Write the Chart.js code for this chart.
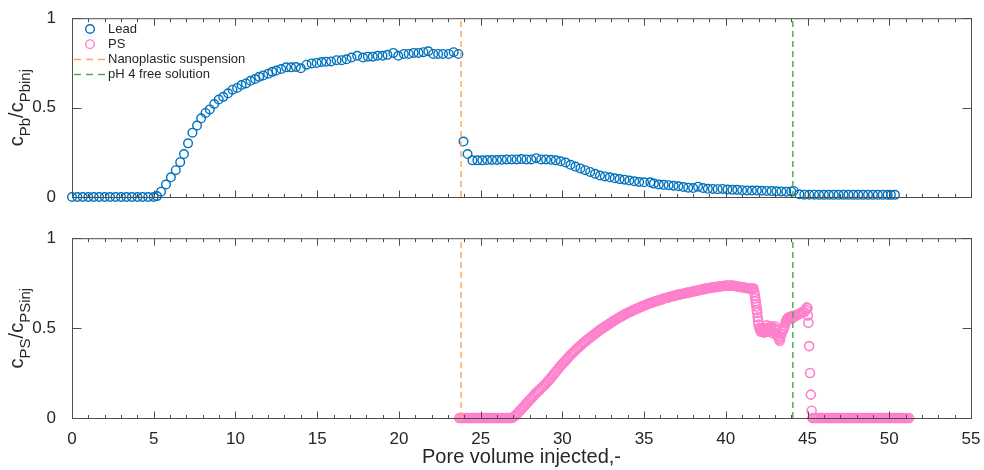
<!DOCTYPE html>
<html>
<head>
<meta charset="utf-8">
<script src="https://cdn.jsdelivr.net/npm/chart.js@4.4.1/dist/chart.umd.min.js"></script>
<style>
  body { margin: 0; background: #fff; }
  canvas { position: absolute; left: 0; }
  #topChart { top: 0; }
  #bottomChart { top: 220px; }
</style>
</head>
<body>
<canvas id="topChart" width="984" height="220"></canvas>
<canvas id="bottomChart" width="984" height="250"></canvas>
<script>
// pore volumes where the injected solution changes
const nanoPV = 23.8;
const freePV = 44.1;
const xTickValues = [0, 5, 10, 15, 20, 25, 30, 35, 40, 45, 50, 55];
const yTickValues = [0, 0.5, 1];

// lead breakthrough (top panel)
const leadX = [0, 0.33, 0.66, 1.0, 1.33, 1.66, 2.0, 2.33, 2.66, 3.0, 3.33, 3.66, 4.0, 4.33, 4.66, 5.0,
  5.2, 5.45, 5.75, 6.05, 6.35, 6.62, 6.85, 7.1, 7.37, 7.65, 7.9, 8.17, 8.43, 8.7, 8.98, 9.25, 9.55, 9.82,
  10.1, 10.37, 10.64, 10.92, 11.2, 11.45, 11.7, 12.0, 12.25, 12.5, 12.8, 13.1, 13.4, 13.7, 14.0, 14.35,
  14.66, 14.97, 15.27, 15.55, 15.85, 16.19, 16.5, 16.8, 17.1, 17.45, 17.8, 18.1, 18.4, 18.7, 19.0, 19.3,
  19.66, 19.96, 20.3, 20.6, 20.9, 21.2, 21.5, 21.8, 22.1, 22.4, 22.7, 23.05, 23.35, 23.64,
  23.95, 24.2, 24.5, 24.8, 25.1, 25.4, 25.7, 26.0, 26.3, 26.6, 26.9, 27.2, 27.5, 27.8, 28.1, 28.4, 28.7,
  29.0, 29.3, 29.6, 29.9, 30.2, 30.5, 30.8, 31.1, 31.4, 31.7, 32.0, 32.3, 32.6, 32.9, 33.2, 33.5, 33.8,
  34.1, 34.4, 34.7, 35.0, 35.38, 35.6, 35.9, 36.2, 36.5, 36.8, 37.1, 37.4, 37.7, 38.0, 38.3, 38.6, 38.9,
  39.2, 39.5, 39.8, 40.1, 40.4, 40.7, 41.0, 41.3, 41.6, 41.9, 42.2, 42.5, 42.8, 43.1, 43.4, 43.7, 44.0,
  44.15, 44.5, 44.8, 45.1, 45.4, 45.7, 46.0, 46.3, 46.6, 46.9, 47.2, 47.5, 47.8, 48.1, 48.4, 48.7, 49.0,
  49.3, 49.6, 49.9, 50.1, 50.35];
const leadY = [0, 0, 0, 0, 0, 0, 0, 0, 0, 0, 0, 0, 0, 0, 0, 0,
  0.005, 0.03, 0.07, 0.11, 0.15, 0.195, 0.24, 0.30, 0.36, 0.40, 0.44, 0.47, 0.49, 0.52, 0.545, 0.56, 0.58, 0.60,
  0.61, 0.626, 0.635, 0.65, 0.66, 0.672, 0.68, 0.69, 0.70, 0.707, 0.716, 0.725, 0.725, 0.727, 0.72, 0.74,
  0.747, 0.75, 0.755, 0.757, 0.758, 0.765, 0.765, 0.77, 0.78, 0.79, 0.78, 0.785, 0.785, 0.79, 0.79, 0.795,
  0.806, 0.79, 0.80, 0.80, 0.806, 0.806, 0.81, 0.815, 0.80, 0.80, 0.80, 0.80, 0.81, 0.80,
  0.31, 0.24, 0.205, 0.205, 0.205, 0.207, 0.207, 0.207, 0.208, 0.21, 0.21, 0.21, 0.212, 0.21, 0.21, 0.217, 0.21,
  0.21, 0.208, 0.205, 0.20, 0.193, 0.18, 0.17, 0.16, 0.15, 0.14, 0.13, 0.12, 0.115, 0.11, 0.105, 0.10, 0.097,
  0.092, 0.088, 0.084, 0.082, 0.082, 0.075, 0.07, 0.068, 0.066, 0.063, 0.06, 0.056, 0.052, 0.05, 0.058, 0.05, 0.046,
  0.045, 0.044, 0.045, 0.042, 0.04, 0.04, 0.038, 0.037, 0.036, 0.036, 0.035, 0.034, 0.033, 0.032, 0.031, 0.03, 0.031,
  0.034, 0.015, 0.013, 0.013, 0.013, 0.012, 0.012, 0.012, 0.012, 0.012, 0.012, 0.012, 0.012, 0.012, 0.012, 0.012, 0.012,
  0.012, 0.012, 0.012, 0.012, 0.012];

// polystyrene nanoplastics (bottom panel)
const psX = [23.7, 23.8, 23.9, 24.0, 24.1, 24.2, 24.3, 24.4, 24.5, 24.6, 24.7, 24.8, 24.9, 25.0, 25.1, 25.2,
  25.3, 25.4, 25.5, 25.6, 25.7, 25.8, 25.9, 26.0, 26.1, 26.2, 26.3, 26.4, 26.5, 26.6, 26.7, 26.8, 26.9,
  27.0, 27.1, 27.2, 27.3, 27.4, 27.5, 27.6, 27.7, 27.8, 27.9, 28.0, 28.1, 28.2, 28.3, 28.4, 28.5, 28.6, 28.7,
  28.8, 28.9, 29.0, 29.1, 29.2, 29.3, 29.4, 29.5, 29.6, 29.7, 29.8, 29.9, 30.0, 30.1, 30.2, 30.3, 30.4, 30.5,
  30.6, 30.7, 30.8, 30.9, 31.0, 31.1, 31.2, 31.3, 31.4, 31.5, 31.6, 31.7, 31.8, 31.9, 32.0, 32.1, 32.2, 32.3,
  32.4, 32.5, 32.6, 32.7, 32.8, 32.9, 33.0, 33.1, 33.2, 33.3, 33.4, 33.5, 33.6, 33.7, 33.8, 33.9, 34.0, 34.1,
  34.2, 34.3, 34.4, 34.5, 34.6, 34.7, 34.8, 34.9, 35.0, 35.1, 35.2, 35.3, 35.4, 35.5, 35.6, 35.7, 35.8, 35.9,
  36.0, 36.1, 36.2, 36.3, 36.4, 36.5, 36.6, 36.7, 36.8, 36.9, 37.0, 37.1, 37.2, 37.3, 37.4, 37.5, 37.6, 37.7,
  37.8, 37.9, 38.0, 38.1, 38.2, 38.3, 38.4, 38.5, 38.6, 38.7, 38.8, 38.9, 39.0, 39.1, 39.2, 39.3, 39.4, 39.5,
  39.6, 39.7, 39.8, 39.9, 40.0, 40.1, 40.2, 40.3, 40.4, 40.5, 40.6, 40.7, 40.8, 40.9, 41.0, 41.1, 41.2, 41.3,
  41.4, 41.5, 41.6, 41.7,
  41.75, 41.78, 41.8, 41.83, 41.85, 41.87, 41.9, 41.92, 41.95, 41.98, 42.0, 42.05, 42.1, 42.15, 42.2, 42.25,
  42.3, 42.35, 42.4, 42.45, 42.5, 42.55, 42.6, 42.65, 42.7, 42.75, 42.8, 42.85, 42.9, 42.95, 43.0, 43.05,
  43.1, 43.15, 43.2, 43.25, 43.3, 43.35, 43.4, 43.45, 43.5, 43.55, 43.6, 43.65, 43.7, 43.75, 43.8, 43.85,
  43.9, 43.95, 44.0, 44.05, 44.1, 44.15, 44.2, 44.3, 44.4, 44.5, 44.6, 44.7, 44.8, 44.9, 44.95, 45.0,
  45.02, 45.05, 45.1, 45.15, 45.2, 45.25, 45.3,
  45.4, 45.5, 45.6, 45.7, 45.8, 45.9, 46.0, 46.1, 46.2, 46.3, 46.4, 46.5, 46.6, 46.7, 46.8, 46.9, 47.0, 47.1,
  47.2, 47.3, 47.4, 47.5, 47.6, 47.7, 47.8, 47.9, 48.0, 48.1, 48.2, 48.3, 48.4, 48.5, 48.6, 48.7, 48.8, 48.9,
  49.0, 49.1, 49.2, 49.3, 49.4, 49.5, 49.6, 49.7, 49.8, 49.9, 50.0, 50.1, 50.2, 50.3, 50.4, 50.5, 50.6, 50.7,
  50.8, 50.9, 51.0, 51.1, 51.2];
const psY = [0, 0, 0, 0, 0, 0, 0, 0, 0, 0, 0, 0, 0, 0, 0, 0,
  0, 0, 0, 0, 0, 0, 0, 0, 0, 0, 0, 0, 0, 0, 0, 0, 0,
  0.005, 0.012, 0.02, 0.03, 0.04, 0.05, 0.06, 0.07, 0.08, 0.09, 0.10, 0.11, 0.12, 0.13, 0.14, 0.148, 0.156, 0.165,
  0.174, 0.183, 0.192, 0.203, 0.213, 0.224, 0.235, 0.246, 0.257, 0.268, 0.279, 0.29, 0.30, 0.31, 0.32, 0.33, 0.34, 0.35,
  0.359, 0.368, 0.377, 0.386, 0.394, 0.402, 0.41, 0.418, 0.426, 0.434, 0.441, 0.448, 0.455, 0.462, 0.469, 0.476, 0.483, 0.49,
  0.496, 0.502, 0.508, 0.514, 0.52, 0.526, 0.532, 0.538, 0.544, 0.549, 0.555, 0.56, 0.565, 0.57, 0.575, 0.58, 0.585, 0.589,
  0.594, 0.598, 0.602, 0.606, 0.61, 0.614, 0.618, 0.622, 0.626, 0.63, 0.634, 0.637, 0.64, 0.643, 0.646, 0.649, 0.652, 0.655,
  0.658, 0.661, 0.664, 0.667, 0.669, 0.672, 0.674, 0.677, 0.679, 0.681, 0.684, 0.686, 0.688, 0.69, 0.692, 0.694, 0.696, 0.698,
  0.70, 0.702, 0.704, 0.706, 0.708, 0.71, 0.712, 0.714, 0.716, 0.718, 0.72, 0.722, 0.723, 0.725, 0.726, 0.728, 0.729, 0.73,
  0.732, 0.733, 0.734, 0.735, 0.736, 0.737, 0.737, 0.737, 0.736, 0.735, 0.734, 0.732, 0.73, 0.729, 0.728, 0.726, 0.724, 0.722,
  0.721, 0.72, 0.72, 0.72,
  0.70, 0.68, 0.665, 0.65, 0.635, 0.62, 0.60, 0.585, 0.56, 0.54, 0.52, 0.50, 0.49, 0.48, 0.485, 0.50,
  0.49, 0.475, 0.48, 0.50, 0.515, 0.50, 0.49, 0.48, 0.495, 0.51, 0.50, 0.485, 0.47, 0.50, 0.51, 0.49,
  0.47, 0.46, 0.45, 0.44, 0.43, 0.45, 0.47, 0.48, 0.49, 0.50, 0.51, 0.53, 0.54, 0.55, 0.555, 0.56,
  0.55, 0.56, 0.565, 0.555, 0.56, 0.57, 0.565, 0.57, 0.575, 0.58, 0.585, 0.59, 0.59, 0.60, 0.615, 0.61,
  0.57, 0.53, 0.40, 0.25, 0.13, 0.04, 0,
  0, 0, 0, 0, 0, 0, 0, 0, 0, 0, 0, 0, 0, 0, 0, 0, 0, 0,
  0, 0, 0, 0, 0, 0, 0, 0, 0, 0, 0, 0, 0, 0, 0, 0, 0, 0,
  0, 0, 0, 0, 0, 0, 0, 0, 0, 0, 0, 0, 0, 0, 0, 0, 0, 0,
  0, 0, 0, 0, 0];

const FONT = "'Liberation Sans', Arial, Helvetica, sans-serif";
const TEXT = '#262626';
const LEAD_COLOR = '#0072BD';
const PS_COLOR = '#FF7FCC';
const NANO_COLOR = '#FFA85C';
const FREE_COLOR = '#4DB04D';

function toPoints(xs, ys) {
  return xs.map((x, i) => ({ x: x, y: ys[i] }));
}

function vline(pv, color, label) {
  return {
    type: 'line', label: label,
    data: [{ x: pv, y: 0 }, { x: pv, y: 1 }],
    borderColor: color, borderWidth: 1.5, borderDash: [6, 4],
    pointRadius: 0, showLine: true, fill: false
  };
}

// box, inward ticks, y title with subscripts and the legend (MATLAB look)
const framePlugin = {
  id: 'frame',
  afterDatasetsDraw(chart, args, opts) {
    const ctx = chart.ctx;
    const a = chart.chartArea;
    const sx = chart.scales.x, sy = chart.scales.y;
    ctx.save();
    ctx.strokeStyle = '#4d4d4d';
    ctx.lineWidth = 1;
    ctx.strokeRect(a.left + 0.5, a.top + 0.5, a.right - a.left, a.bottom - a.top);
    ctx.beginPath();
    for (let v = 0; v <= 55; v++) {
      const px = Math.round(sx.getPixelForValue(v)) + 0.5;
      const len = v % 5 === 0 ? 7 : 3.5;
      ctx.moveTo(px, a.bottom + 0.5); ctx.lineTo(px, a.bottom + 0.5 - len);
      ctx.moveTo(px, a.top + 0.5); ctx.lineTo(px, a.top + 0.5 + len);
    }
    yTickValues.forEach(v => {
      const py = Math.round(sy.getPixelForValue(v)) + 0.5;
      ctx.moveTo(a.left + 0.5, py); ctx.lineTo(a.left + 9.5, py);
      ctx.moveTo(a.right + 0.5, py); ctx.lineTo(a.right - 8.5, py);
    });
    ctx.stroke();

    // y axis title: c_sub / c_sub
    const segs = opts.yTitle;
    const mainFont = '20px ' + FONT, subFont = '15px ' + FONT;
    let total = 0;
    segs.forEach(s => { ctx.font = s[1] ? subFont : mainFont; total += ctx.measureText(s[0]).width; });
    ctx.translate(opts.titleX, (a.top + a.bottom) / 2);
    ctx.rotate(-Math.PI / 2);
    ctx.fillStyle = TEXT;
    ctx.textBaseline = 'alphabetic';
    ctx.textAlign = 'left';
    let x = -total / 2;
    segs.forEach(s => {
      ctx.font = s[1] ? subFont : mainFont;
      ctx.fillText(s[0], x, s[1] ? opts.subShift : 0);
      x += ctx.measureText(s[0]).width;
    });
    ctx.restore();

    if (opts.legend) {
      ctx.save();
      ctx.font = '13px ' + FONT;
      ctx.textBaseline = 'middle';
      ctx.fillStyle = TEXT;
      opts.legend.forEach((item, i) => {
        const y = 29 + i * 15.2;
        ctx.strokeStyle = item.color;
        if (item.kind === 'circle') {
          ctx.lineWidth = 1.4;
          ctx.beginPath();
          ctx.arc(90, y, 4.3, 0, Math.PI * 2);
          ctx.stroke();
        } else {
          ctx.lineWidth = 1.5;
          ctx.setLineDash([7, 5]);
          ctx.beginPath();
          ctx.moveTo(74, y); ctx.lineTo(106, y);
          ctx.stroke();
          ctx.setLineDash([]);
        }
        ctx.fillText(item.label, 108, y);
      });
      ctx.restore();
    }
  }
};

function makeOptions(showXLabels, xHeight, frameOpts, topPad) {
  return {
    responsive: false,
    animation: false,
    layout: { padding: { left: 0, right: 13, top: topPad, bottom: 0 } },
    plugins: { legend: { display: false }, tooltip: { enabled: false }, frame: frameOpts },
    scales: {
      x: {
        type: 'linear', min: 0, max: 55,
        afterFit: s => { s.height = xHeight; },
        afterBuildTicks: s => { s.ticks = xTickValues.map(v => ({ value: v })); },
        grid: { display: false }, border: { display: false },
        ticks: { display: showXLabels, color: TEXT, font: { family: FONT, size: 17 }, padding: 3, maxRotation: 0 },
        title: { display: showXLabels, text: 'Pore volume injected,-', color: TEXT,
          font: { family: FONT, size: 20 }, padding: { top: 0, bottom: 1 } }
      },
      y: {
        type: 'linear', min: 0, max: 1,
        afterFit: s => { s.width = 72; },
        afterBuildTicks: s => { s.ticks = yTickValues.map(v => ({ value: v })); },
        grid: { display: false }, border: { display: false },
        ticks: { color: TEXT, font: { family: FONT, size: 17 }, padding: 8,
          callback: v => String(v) }
      }
    }
  };
}

new Chart(document.getElementById('topChart'), {
  type: 'scatter',
  data: {
    datasets: [
      vline(nanoPV, NANO_COLOR, 'Nanoplastic suspension'),
      vline(freePV, FREE_COLOR, 'pH 4 free solution'),
      { label: 'Lead', data: toPoints(leadX, leadY), borderColor: LEAD_COLOR, backgroundColor: 'rgba(0,0,0,0)',
        pointRadius: 4.3, borderWidth: 1.4, clip: false }
    ]
  },
  options: makeOptions(false, 23, {
    yTitle: [['c', 0], ['Pb', 1], ['/', 0], ['c', 0], ['Pbinj', 1]],
    titleX: 23, subShift: 7,
    legend: [
      { kind: 'circle', color: LEAD_COLOR, label: 'Lead' },
      { kind: 'circle', color: PS_COLOR, label: 'PS' },
      { kind: 'dash', color: NANO_COLOR, label: 'Nanoplastic suspension' },
      { kind: 'dash', color: FREE_COLOR, label: 'pH 4 free solution' }
    ]
  }, 12),
  plugins: [framePlugin]
});

new Chart(document.getElementById('bottomChart'), {
  type: 'scatter',
  data: {
    datasets: [
      vline(nanoPV, NANO_COLOR, 'Nanoplastic suspension'),
      vline(freePV, FREE_COLOR, 'pH 4 free solution'),
      { label: 'PS', data: toPoints(psX, psY), borderColor: PS_COLOR, backgroundColor: 'rgba(0,0,0,0)',
        pointRadius: 4.5, borderWidth: 1.6, clip: false }
    ]
  },
  options: makeOptions(true, 52, {
    yTitle: [['c', 0], ['PS', 1], ['/', 0], ['c', 0], ['PSinj', 1]],
    titleX: 23, subShift: 7
  }, 13),
  plugins: [framePlugin]
});
</script>
</body>
</html>
